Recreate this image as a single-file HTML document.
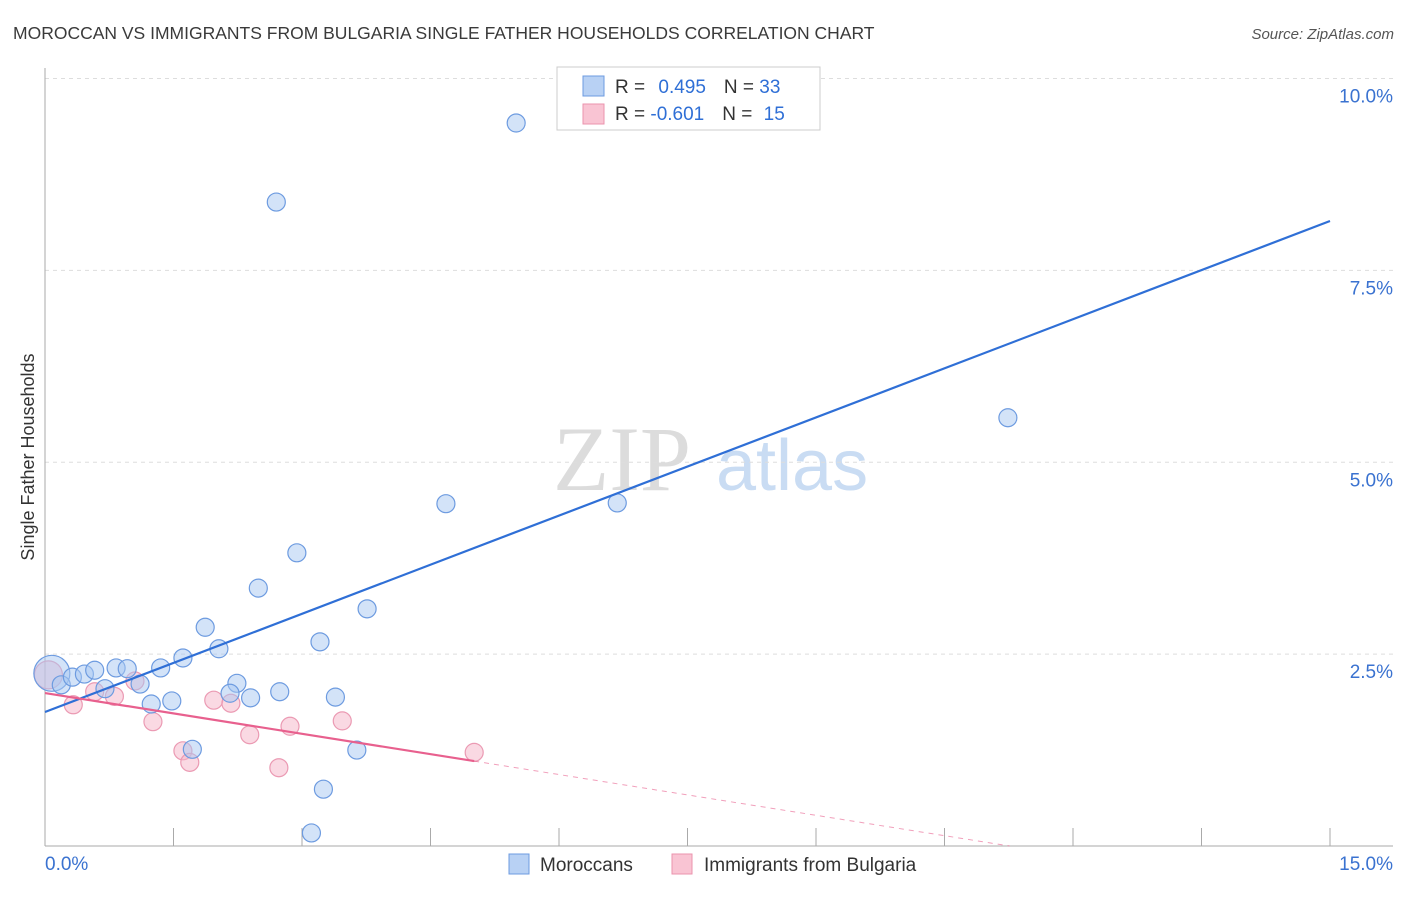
<!DOCTYPE html>
<html><head><meta charset="utf-8"><style>
body{margin:0;background:#fff;width:1406px;height:892px;overflow:hidden;font-family:"Liberation Sans",sans-serif}
</style></head><body>
<svg id="c" width="1406" height="892" xmlns="http://www.w3.org/2000/svg">
<text x="13" y="39" font-size="17.5" fill="#3a3a3a">MOROCCAN VS IMMIGRANTS FROM BULGARIA SINGLE FATHER HOUSEHOLDS CORRELATION CHART</text>
<text x="1394" y="39" font-size="15" fill="#555" font-style="italic" text-anchor="end">Source: ZipAtlas.com</text>
<g>
<text x="553" y="490" font-family="Liberation Serif,serif" font-size="92" fill="#dcdcdc">ZIP</text>
<text x="716" y="490" font-size="72" fill="#c9dcf3">atlas</text>
</g>
<g id="grid"></g>
<g id="axes"></g>
<g id="marks"></g>
<g>
<rect x="557" y="67" width="263" height="63" fill="#fff" stroke="#ccc"/>
<rect x="583" y="76" width="21" height="20" fill="#b8d1f4" stroke="#6d9be0"/>
<rect x="583" y="104" width="21" height="20" fill="#f9c4d3" stroke="#eb93ae"/>
<text x="615" y="93" font-size="19" fill="#333">R = <tspan fill="#2f6fd6" dx="8">0.495</tspan><tspan fill="#333" dx="18">N = </tspan><tspan fill="#2f6fd6">33</tspan></text>
<text x="615" y="120" font-size="19" fill="#333">R = <tspan fill="#2f6fd6">-0.601</tspan><tspan fill="#333" dx="18">N = </tspan><tspan fill="#2f6fd6" dx="6">15</tspan></text>
</g>
<g>
<rect x="509" y="854" width="20" height="20" fill="#b8d1f4" stroke="#6d9be0"/>
<text x="540" y="871" font-size="19" fill="#333">Moroccans</text>
<rect x="672" y="854" width="20" height="20" fill="#f9c4d3" stroke="#eb93ae"/>
<text x="704" y="871" font-size="19" fill="#333">Immigrants from Bulgaria</text>
</g>
<text transform="translate(34,457) rotate(-90)" font-size="18" fill="#333" text-anchor="middle">Single Father Households</text>
</svg>
<script>
const blueX=[0.08,0.19,0.32,0.46,0.58,0.83,0.96,0.70,1.11,1.35,1.61,1.24,1.48,1.87,2.03,2.24,2.16,2.40,2.74,3.39,3.21,3.76,2.94,2.49,2.70,5.50,4.68,6.68,11.24,1.72,3.64,3.25,3.11];
const blueY=[2.25,2.10,2.20,2.24,2.29,2.32,2.31,2.05,2.11,2.32,2.45,1.85,1.89,2.85,2.57,2.12,1.99,1.93,2.01,1.94,2.66,3.09,3.82,3.36,8.39,9.42,4.46,4.47,5.58,1.26,1.25,0.74,0.17];
const pinkX=[0.04,0.33,0.58,0.81,1.05,1.26,1.61,1.69,1.97,2.17,2.39,2.73,2.86,3.47,5.01];
const pinkY=[2.23,1.84,2.01,1.95,2.15,1.62,1.24,1.09,1.90,1.86,1.45,1.02,1.56,1.63,1.22];
const blueTrend=[1.746,8.143];
const pinkTrend=[1.993,-0.177];
const yTicks=[2.5,5.0,7.5,10.0];
const yTickLabels=["2.5%","5.0%","7.5%","10.0%"];
const NS="http://www.w3.org/2000/svg";
const sx=v=>45+v/15*1285, sy=v=>846-v*76.75;
function mk(t,a,p){const e=document.createElementNS(NS,t);for(const k in a)e.setAttribute(k,a[k]);document.getElementById(p).appendChild(e);return e;}
yTicks.forEach((t,i)=>{
 const g=mk('line',{x1:45,x2:1393,y1:sy(t),y2:sy(t),stroke:'#ddd','stroke-dasharray':'4,4'},'grid');
 
 
 const l=mk('text',{x:1393,y:sy(t)+24,'font-size':19,fill:'#3a72d0','text-anchor':'end'},'axes');
 l.textContent=yTickLabels[i];
 
 
});
const ax=mk('line',{x1:45,x2:1393,y1:846,y2:846,stroke:'#aaa'},'axes');


const ay=mk('line',{x1:45,x2:45,y1:68,y2:846,stroke:'#aaa'},'axes');


for(let i=1;i<=10;i++){const t=mk('line',{x1:sx(i*1.5),x2:sx(i*1.5),y1:828,y2:846,stroke:'#aaa'},'axes');
 
 }
[["0.0%",45,'start'],["15.0%",1393,'end']].forEach(a=>{const t=mk('text',{x:a[1],y:870,'font-size':19,fill:'#3a72d0','text-anchor':a[2]},'axes');t.textContent=a[0];
 
 });
pinkX.forEach((x,i)=>{const c=mk('circle',{cx:sx(x),cy:sy(pinkY[i]),r:i==0?14:9,fill:'rgba(246,180,200,0.5)',stroke:'#eb9ab3','stroke-width':1.2},'marks');
 
 });
blueX.forEach((x,i)=>{const c=mk('circle',{cx:sx(x),cy:sy(blueY[i]),r:i==0?18:9,fill:'rgba(168,200,242,0.5)',stroke:'#6d9be0','stroke-width':1.2},'marks');
 
 });
const bl=mk('line',{x1:sx(0),y1:sy(blueTrend[0]),x2:sx(15),y2:sy(blueTrend[0]+blueTrend[1]*0+ (blueTrend[1]-blueTrend[0])),stroke:'#2f6fd6','stroke-width':2.2},'marks');


const pend=Math.max(...pinkX), pz=-pinkTrend[0]/pinkTrend[1];
const pl=mk('line',{x1:sx(0),y1:sy(pinkTrend[0]),x2:sx(pend),y2:sy(pinkTrend[0]+pinkTrend[1]*pend),stroke:'#e8608e','stroke-width':2.2},'marks');


const pd=mk('line',{x1:sx(pend),y1:sy(pinkTrend[0]+pinkTrend[1]*pend),x2:sx(pz),y2:sy(0),stroke:'#e8608e','stroke-width':1,'stroke-dasharray':'5,5',opacity:0.6},'marks');


</script>
</body></html>
